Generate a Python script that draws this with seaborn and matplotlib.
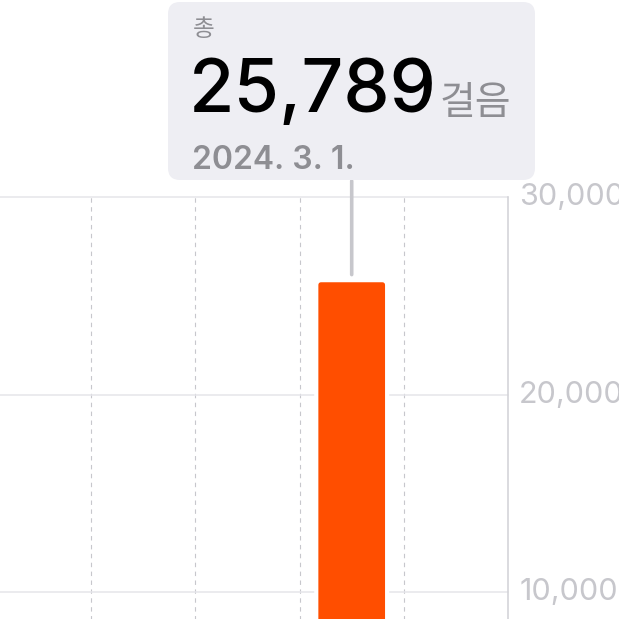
import matplotlib
matplotlib.use("Agg")
from matplotlib import pyplot as plt
from matplotlib.patches import FancyBboxPatch
from matplotlib.transforms import blended_transform_factory
from matplotlib.ticker import FuncFormatter
import seaborn as sns
import pandas as pd

# Data
days = ["2.26", "2.27", "2.28", "3.1", "3.2"]
steps = [0, 0, 0, 25789, 0]
y_ticks = [10000, 20000, 30000]
selected_day = "3.1"
total_label = "총"
unit_label = "걸음"
date_label = "2024. 3. 1."

ORANGE = "#ff4e00"
GRID = "#e5e5ea"
LABEL_GRAY = "#c7c7cc"
TEXT_GRAY = "#8e8e93"

df = pd.DataFrame({"day": days, "steps": steps})

sns.set_theme(style="white")
plt.rcParams["font.family"] = ["Inter", "Noto Sans CJK KR", "DejaVu Sans"]

W = 619


def fx(px):
    return px / W


def fy(px):
    return 1 - px / W


fig = plt.figure(figsize=(6.19, 6.19), dpi=100)
# axes is wider/taller than the crop: 0 steps sits below the bottom edge
ax = fig.add_axes([fx(-13), fy(789.5), (508 + 13) / W, (789.5 - 197) / W])

sns.barplot(data=df, x="day", y="steps", color=ORANGE, saturation=1,
            width=0.68, edgecolor="white", linewidth=3, ax=ax, zorder=3)

ax.set_xlim(-0.5, len(days) - 0.5)
ax.set_ylim(0, y_ticks[-1])

# swap the plain bars for rounded ones with the same geometry
dx = ax.transData.transform((1, 0))[0] - ax.transData.transform((0, 0))[0]
dy = ax.transData.transform((0, 1))[1] - ax.transData.transform((0, 0))[1]
for p in list(ax.patches):
    x, y = p.get_x(), p.get_y()
    w, h = p.get_width(), p.get_height()
    p.remove()
    if h <= 0:
        continue
    ax.add_patch(FancyBboxPatch(
        (x, y), w, h,
        boxstyle=f"round,pad=0,rounding_size={5 / dx}",
        mutation_aspect=dx / dy,
        facecolor=ORANGE, edgecolor="white", linewidth=3, zorder=3))

# grid
ax.set_yticks(y_ticks)
ax.yaxis.set_major_formatter(FuncFormatter(lambda v, _: f"{int(v):,}"))
ax.grid(axis="y", color=GRID, linewidth=1.1)
for gl in ax.get_ygridlines():
    gl.set_clip_on(False)
ax.set_xticks([i + 0.5 for i in range(len(days) - 1)], minor=True)
ax.grid(axis="x", which="minor", color=LABEL_GRAY, linewidth=0.8,
        linestyle=(0, (4, 4)))
ax.grid(axis="x", which="major", visible=False)
ax.set_axisbelow(True)

for side in ["top", "left", "bottom"]:
    ax.spines[side].set_visible(False)
ax.spines["right"].set_color("#d1d1d6")
ax.spines["right"].set_linewidth(1.1)

ax.yaxis.tick_right()
ax.tick_params(axis="y", length=0, pad=8, labelsize=22, labelcolor=LABEL_GRAY)
for lab in ax.get_yticklabels():
    lab.set_va("center")
ax.tick_params(axis="x", which="both", length=0, labelbottom=False)
ax.set_xlabel("")
ax.set_ylabel("")

# tooltip box
fig.patches.append(FancyBboxPatch(
    (fx(168), fy(180)), (535 - 168) / W, (180 - 2) / W,
    boxstyle=f"round,pad=0,rounding_size={12 / W}",
    transform=fig.transFigure, facecolor="#eeeef3", edgecolor="none",
    zorder=0))

fig.text(fx(193), fy(36), total_label, fontsize=17, color=TEXT_GRAY,
         family=["Noto Sans CJK KR"], fontweight="medium", va="baseline")
sel_value = steps[days.index(selected_day)]
big = fig.text(fx(189), fy(112), f"{sel_value:,}", fontsize=53,
               color="black", fontweight="medium", va="baseline")
fig.canvas.draw()
bb = big.get_window_extent()
fig.text((bb.x1 + 3) / W, fy(114), unit_label, fontsize=28,
         color=TEXT_GRAY, family=["Noto Sans CJK KR"], fontweight="medium",
         va="baseline")
fig.text(fx(192), fy(169), date_label, fontsize=23, color=TEXT_GRAY,
         fontweight="semibold", va="baseline")

# connector from tooltip to the selected bar
sel_idx = days.index(selected_day)
ax.annotate("", xy=(sel_idx, sel_value), xycoords="data",
            xytext=(sel_idx, fy(181)),
            textcoords=blended_transform_factory(ax.transData, fig.transFigure),
            arrowprops=dict(arrowstyle="-", color="#c7c7cc", lw=2.6,
                            shrinkA=0, shrinkB=4),
            annotation_clip=False)

fig.savefig("out.png", dpi=100)
